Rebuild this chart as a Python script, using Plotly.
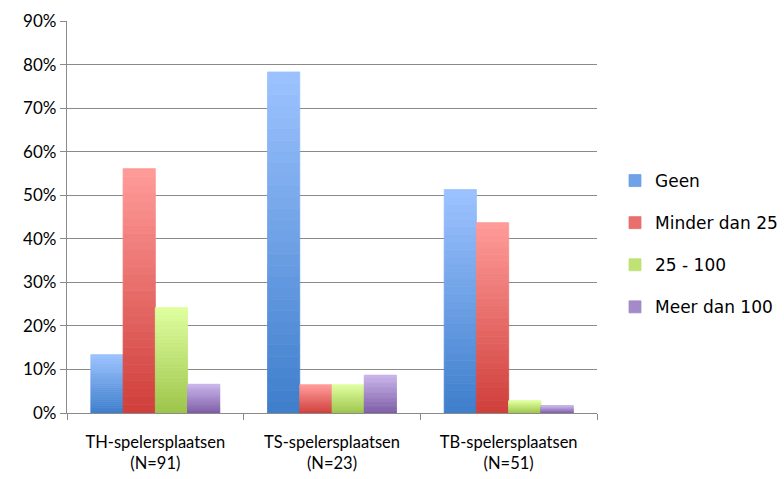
import plotly.graph_objects as go

# Share of respondents per number of users, by type of play area
categories = ["TH-spelersplaatsen<br>(N=91)", "TS-spelersplaatsen<br>(N=23)", "TB-spelersplaatsen<br>(N=51)"]
series_names = ["Geen", "Minder dan 25", "25 - 100", "Meer dan 100"]
geen = [0.134, 0.783, 0.513]
minder_dan_25 = [0.561, 0.065, 0.437]
tussen_25_100 = [0.242, 0.065, 0.028]
meer_dan_100 = [0.066, 0.087, 0.017]
series_values = [geen, minder_dan_25, tussen_25_100, meer_dan_100]

# (bottom colour, top colour) of each series' vertical gradient
gradients = [
    ("#3E7ECB", "#9DC3FF"),
    ("#CF3E3A", "#FF9C9A"),
    ("#9DC44A", "#DFFF9F"),
    ("#7C5CA6", "#C9B5EA"),
]
STEPS = 30


def hex_to_rgb(h):
    h = h.lstrip("#")
    return tuple(int(h[i:i + 2], 16) for i in (0, 2, 4))


def mix(c0, c1, t):
    a, b = hex_to_rgb(c0), hex_to_rgb(c1)
    return "rgb({},{},{})".format(*(round(a[i] + (b[i] - a[i]) * t) for i in range(3)))


fig = go.Figure()
for s, (name, vals) in enumerate(zip(series_names, series_values)):
    lo, hi = gradients[s]
    for k in range(STEPS):
        frac = k / STEPS
        col = mix(lo, hi, (k + 0.5) / STEPS)
        fig.add_trace(go.Bar(
            x=categories,
            y=[v / STEPS for v in vals],
            base=[v * frac for v in vals],
            name=name,
            legendgroup=name,
            legendrank=s + 1,
            showlegend=(k == STEPS // 2),
            offsetgroup=str(s),
            marker=dict(color=col, line=dict(width=0.8, color=col)),
            hoverinfo="skip" if k != STEPS - 1 else None,
        ))

grid_color = "#8A8A8A"
fig.update_layout(
    width=784,
    height=479,
    paper_bgcolor="white",
    plot_bgcolor="white",
    margin=dict(l=67, r=187, t=21, b=66, autoexpand=False),
    barmode="group",
    bargap=0.27,
    bargroupgap=0,
    font=dict(family="Lato", size=16, color="#000000"),
    legend=dict(
        x=(615 - 67) / (784 - 67 - 187), xref="paper", xanchor="left",
        y=(413 - 244) / (413 - 21), yanchor="middle",
        font=dict(family="DejaVu Sans", size=17, color="#000000"),
        traceorder="grouped",
        tracegroupgap=17,
        bgcolor="rgba(0,0,0,0)",
    ),
    xaxis=dict(
        type="category",
        automargin=False,
        showgrid=False,
        showline=True,
        linecolor=grid_color,
        linewidth=1.3,
        ticks="outside",
        tickson="boundaries",
        ticklen=6,
        tickcolor=grid_color,
        tickwidth=1.3,
        ticklabelstandoff=14,
        tickfont=dict(family="Lato", size=16.5),
    ),
    yaxis=dict(
        range=[0, 0.9],
        dtick=0.1,
        tickformat=".0%",
        automargin=False,
        showgrid=True,
        gridcolor=grid_color,
        gridwidth=1.3,
        zeroline=False,
        showline=True,
        linecolor=grid_color,
        linewidth=1.3,
        ticks="outside",
        ticklen=6,
        tickcolor=grid_color,
        tickwidth=1.3,
        tickfont=dict(family="Lato", size=17),
    ),
)

fig.write_html("out.html")
